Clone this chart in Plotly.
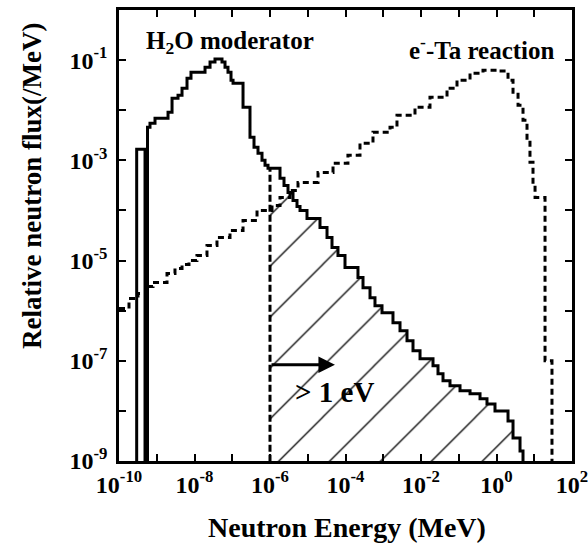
import plotly.graph_objects as go

# ---- data (energy in MeV, flux in /MeV) ----
# H2O moderator spectrum: bin left edges and bin values (0 = no flux)
h2o_energy = [2.94e-10, 4.89e-10, 5.69e-10, 6.62e-10, 8.99e-10, 1.99e-9, 2.54e-9, 3.66e-9,
              4.67e-9, 6.33e-9, 8.07e-9, 1.90e-8, 2.58e-8, 3.49e-8, 5.35e-8, 6.43e-8,
              7.71e-8, 9.27e-8, 1.05e-7, 1.93e-7, 2.95e-7, 3.77e-7, 4.81e-7, 6.14e-7,
              7.38e-7, 8.85e-7, 1.84e-6, 2.35e-6, 3.0e-6, 4.07e-6, 5.19e-6, 6.24e-6,
              9.55e-6, 2.11e-5, 3.24e-5, 4.39e-5, 6.32e-5, 9.70e-5, 2.14e-4, 2.91e-4,
              4.46e-4, 6.04e-4, 9.27e-4, 1.81e-3, 2.78e-3, 4.26e-3, 6.14e-3, 9.42e-3,
              2.08e-2, 2.82e-2, 3.83e-2, 5.86e-2, 0.108, 0.199, 0.366, 0.560, 0.912,
              2.02, 2.74, 4.20, 5.04]
h2o_flux = [1.66e-3, 0, 4.57e-3, 5.50e-3, 6.92e-3, 9.12e-3, 1.74e-2, 2.0e-2,
            2.75e-2, 4.37e-2, 5.75e-2, 7.24e-2, 9.12e-2, 0.105, 9.12e-2, 7.24e-2,
            5.75e-2, 3.98e-2, 3.47e-2, 1.15e-2, 2.88e-3, 1.82e-3, 1.38e-3, 1.0e-3,
            7.94e-4, 6.92e-4, 4.37e-4, 3.16e-4, 2.29e-4, 1.58e-4, 1.20e-4, 1.0e-4,
            6.92e-5, 4.57e-5, 2.88e-5, 1.82e-5, 1.26e-5, 7.24e-6, 4.57e-6, 2.88e-6,
            1.82e-6, 1.26e-6, 9.12e-7, 5.75e-7, 3.98e-7, 2.51e-7, 1.58e-7, 1.10e-7,
            7.94e-8, 5.50e-8, 3.98e-8, 3.16e-8, 2.51e-8, 2.19e-8, 1.74e-8, 1.38e-8,
            1.0e-8, 6.31e-9, 2.88e-9, 1.58e-9, 0]

# e^- - Ta reaction (source) spectrum
eta_energy = [1.0e-10, 1.84e-10, 3.18e-10, 5.52e-10, 7.96e-10, 1.87e-9, 3.04e-9, 4.67e-9,
              7.14e-9, 1.16e-8, 2.14e-8, 3.94e-8, 8.71e-8, 1.93e-7, 4.53e-7, 1.13e-6,
              1.84e-6, 3.39e-6, 5.52e-6, 1.87e-5, 4.67e-5, 1.16e-4, 2.42e-4, 5.35e-4,
              1.51e-3, 2.31e-3, 6.93e-3, 1.73e-2, 4.89e-2, 8.99e-2, 0.199, 0.439, 1.03,
              2.02, 2.74, 3.72, 5.04, 6.43, 7.71, 9.27, 10.5, 19.3, 29.5]
eta_flux = [1.10e-6, 1.74e-6, 2.19e-6, 3.02e-6, 3.63e-6, 5.50e-6, 6.92e-6, 8.32e-6,
            1.0e-5, 1.26e-5, 2.0e-5, 2.88e-5, 3.98e-5, 6.31e-5, 1.0e-4, 1.26e-4,
            1.82e-4, 2.51e-4, 3.63e-4, 5.75e-4, 8.71e-4, 1.26e-3, 2.19e-3, 3.63e-3,
            4.57e-3, 7.94e-3, 1.15e-2, 1.82e-2, 2.75e-2, 3.98e-2, 5.50e-2, 6.31e-2,
            6.03e-2, 3.98e-2, 2.29e-2, 1.26e-2, 6.31e-3, 2.51e-3, 9.12e-4, 3.16e-4,
            1.82e-4, 1.0e-7, 0]

hatch_start = 1e-6  # 1 eV threshold (MeV)

x_tickvals = [1e-10, 1e-9, 1e-8, 1e-7, 1e-6, 1e-5, 1e-4, 1e-3, 1e-2, 1e-1, 1e0, 1e1, 1e2]
x_ticktext = ["10<sup>-10</sup>", "", "10<sup>-8</sup>", "", "10<sup>-6</sup>", "",
              "10<sup>-4</sup>", "", "10<sup>-2</sup>", "", "10<sup>0</sup>", "", "10<sup>2</sup>"]
y_tickvals = [1e-9, 1e-8, 1e-7, 1e-6, 1e-5, 1e-4, 1e-3, 1e-2, 1e-1, 1e0]
y_ticktext = ["10<sup>-9</sup>", "", "10<sup>-7</sup>", "", "10<sup>-5</sup>", "",
              "10<sup>-3</sup>", "", "10<sup>-1</sup>", ""]

FLOOR = 1e-15  # stands in for zero on the log axis (drawn below the frame)
FONT = "Liberation Serif"


def floor(vals):
    return [v if v > 0 else FLOOR for v in vals]


fig = go.Figure()

# hatched region (> 1 eV) under the moderator spectrum
idx = max(i for i, e in enumerate(h2o_energy) if e <= hatch_start)
hx = [hatch_start, hatch_start] + h2o_energy[idx + 1:]
hy = [FLOOR, h2o_flux[idx]] + floor(h2o_flux[idx + 1:])
fig.add_trace(go.Scatter(
    x=hx, y=hy, mode="lines", line=dict(width=0, shape="hv"),
    fill="toself", fillcolor="rgba(0,0,0,0)",
    fillpattern=dict(shape="/", size=36, solidity=0.035, fgcolor="black",
                     bgcolor="rgba(0,0,0,0)"),
    hoverinfo="skip", showlegend=False))

# e- - Ta reaction spectrum (dashed)
fig.add_trace(go.Scatter(
    x=eta_energy, y=floor(eta_flux), mode="lines",
    line=dict(color="black", width=3, shape="hv", dash="6px,4px"),
    showlegend=False))

# threshold line at 1 eV (dashed)
fig.add_trace(go.Scatter(
    x=[hatch_start, hatch_start], y=[FLOOR, h2o_flux[idx]], mode="lines",
    line=dict(color="black", width=3, dash="7px,3px"), showlegend=False))

# H2O moderator spectrum (solid)
fig.add_trace(go.Scatter(
    x=[h2o_energy[0]] + h2o_energy, y=[FLOOR] + floor(h2o_flux), mode="lines",
    line=dict(color="black", width=3, shape="hv"), showlegend=False))

axis_common = dict(
    type="log", showline=True, linecolor="black", linewidth=2.5, mirror="ticks",
    ticks="inside", ticklen=7, tickwidth=2, tickcolor="black",
    showgrid=False, zeroline=False, automargin=False, ticklabeloverflow="allow",
    tickfont=dict(family=FONT, size=24, color="black", weight="bold"),
)
fig.update_xaxes(range=[-10.0001, 2.0001], tickvals=x_tickvals, ticktext=x_ticktext, **axis_common)
fig.update_yaxes(range=[-9.0001, 0.0001], tickvals=y_tickvals, ticktext=y_ticktext,
                 ticklabelstandoff=4, **axis_common)

bold = dict(family=FONT, color="black", weight="bold")
center = dict(xref="paper", yref="paper", xanchor="center", yanchor="middle", showarrow=False)
annotations = [
    dict(text="H<sub>2</sub>O moderator", x=0.245, y=0.929, font=dict(size=25, **bold), **center),
    dict(text="e<sup>-</sup>-Ta reaction", x=0.801, y=0.916, font=dict(size=25, **bold), **center),
    dict(text="> 1 eV", x=0.475, y=0.153, font=dict(size=29, **bold), **center),
    dict(text="", x=-4.28, y=-7.08, xref="x", yref="y", ax=-6.0, ay=-7.08,
         axref="x", ayref="y", showarrow=True, arrowhead=2, arrowsize=1.1,
         arrowwidth=3, arrowcolor="black"),
    dict(text="Neutron Energy (MeV)", x=0.503, y=-0.148, font=dict(size=28, **bold), **center),
    dict(text="Relative neutron flux(/MeV)", x=-0.192, y=0.61, textangle=-90,
         font=dict(size=27, **bold), **center),
]

fig.update_layout(
    template="none",
    width=588, height=543,
    margin=dict(l=119, r=16, t=10, b=82),
    paper_bgcolor="white", plot_bgcolor="white",
    annotations=annotations,
    showlegend=False,
)

fig.write_html("out.html")
